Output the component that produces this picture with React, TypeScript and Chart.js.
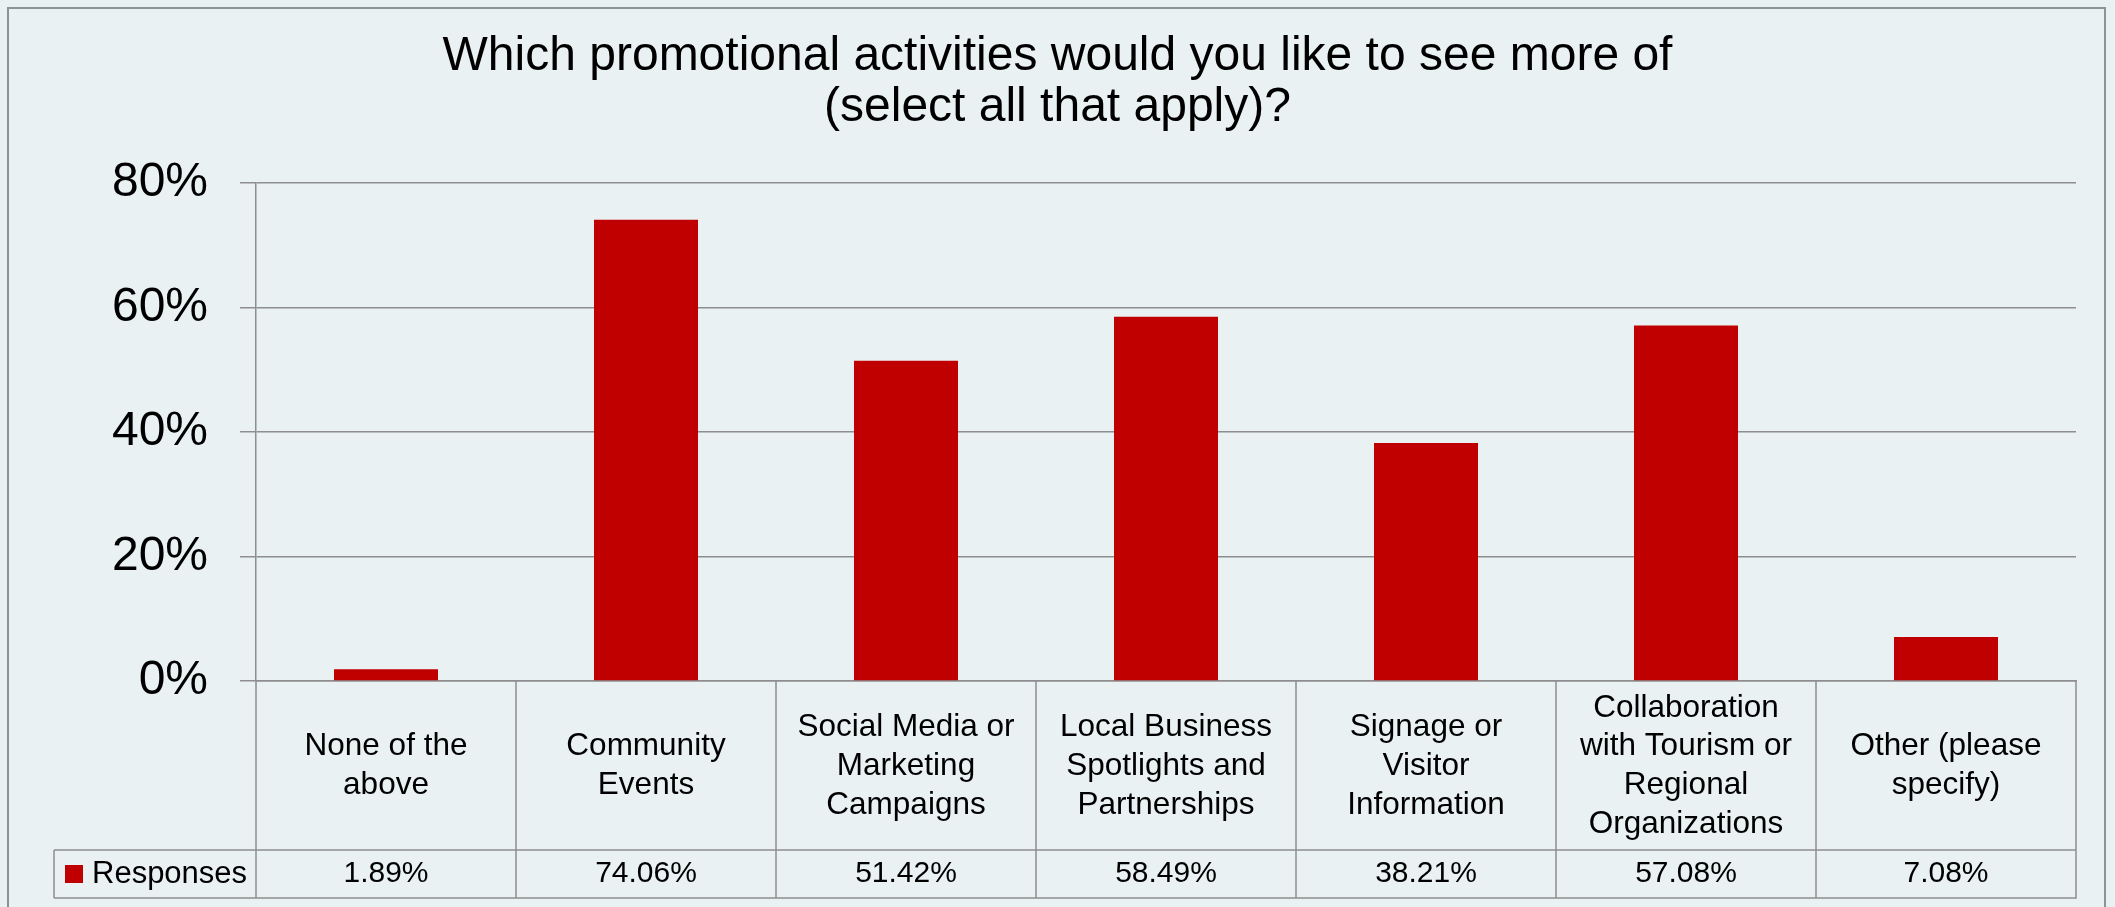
import { useEffect, useRef } from 'react';
import { Chart, registerables } from 'chart.js';

Chart.register(...registerables);

const titleLines = ['Which promotional activities would you like to see more of', '(select all that apply)?'];
const categories: string[][] = [
  ['None of the', 'above'],
  ['Community', 'Events'],
  ['Social Media or', 'Marketing', 'Campaigns'],
  ['Local Business', 'Spotlights and', 'Partnerships'],
  ['Signage or', 'Visitor', 'Information'],
  ['Collaboration', 'with Tourism or', 'Regional', 'Organizations'],
  ['Other (please', 'specify)'],
];
const seriesName = 'Responses';
const responses = [1.89, 74.06, 51.42, 58.49, 38.21, 57.08, 7.08];
const yTickValues = [0, 20, 40, 60, 80];

const FONT = '"Liberation Sans", Arial, Helvetica, sans-serif';
const BG = '#E9F1F3';
const LINE = '#8E8E8E';
const FRAME = '#8A9494';
const BAR = '#C00000';
const DATA_ROW_H = 48;
const LEGEND_LEFT = 54;

const excelTable = {
  id: 'excelTable',
  beforeDraw(chart: any) {
    const { ctx, width, height } = chart;
    ctx.save();
    ctx.fillStyle = BG;
    ctx.fillRect(0, 0, width, height);
    ctx.strokeStyle = FRAME;
    ctx.lineWidth = 2;
    ctx.strokeRect(8, 8, width - 18, height + 20);
    ctx.restore();
  },
  afterDraw(chart: any) {
    const { ctx, chartArea } = chart;
    const xs = chart.scales.x;
    const n = xs.ticks.length;
    const bounds: number[] = [];
    for (let i = 0; i <= n; i++) {
      if (i === 0) bounds.push(chartArea.left);
      else if (i === n) bounds.push(chartArea.right);
      else bounds.push((xs.getPixelForValue(i - 1) + xs.getPixelForValue(i)) / 2);
    }
    const top = chartArea.bottom;
    const bottom = xs.bottom;
    const rowTop = bottom - DATA_ROW_H;
    ctx.save();
    ctx.strokeStyle = LINE;
    ctx.lineWidth = 1.5;
    ctx.beginPath();
    for (const b of bounds) {
      ctx.moveTo(b, top);
      ctx.lineTo(b, bottom);
    }
    ctx.moveTo(LEGEND_LEFT, rowTop);
    ctx.lineTo(chartArea.right, rowTop);
    ctx.moveTo(LEGEND_LEFT, bottom);
    ctx.lineTo(chartArea.right + 0.75, bottom);
    ctx.moveTo(LEGEND_LEFT, rowTop);
    ctx.lineTo(LEGEND_LEFT, bottom);
    ctx.stroke();

    const mid = (rowTop + bottom) / 2;
    ctx.fillStyle = BAR;
    ctx.fillRect(65, mid - 9, 18, 18);
    ctx.fillStyle = '#000';
    ctx.font = `31px ${FONT}`;
    ctx.textBaseline = 'middle';
    ctx.textAlign = 'left';
    ctx.fillText(chart.data.datasets[0].label, 92, mid);
    ctx.textAlign = 'center';
    ctx.font = `30px ${FONT}`;
    const data = chart.data.datasets[0].data as number[];
    data.forEach((v, i) => {
      ctx.fillText(v.toFixed(2) + '%', xs.getPixelForValue(i), mid);
    });
    ctx.restore();
  },
};

export default function App() {
  const ref = useRef<HTMLCanvasElement | null>(null);
  useEffect(() => {
    if (!ref.current) return;
    const chart = new Chart(ref.current, {
      type: 'bar',
      data: {
        labels: categories,
        datasets: [
          {
            label: seriesName,
            data: responses,
            backgroundColor: BAR,
            borderWidth: 0,
            barPercentage: 0.4,
            categoryPercentage: 1,
          },
        ],
      },
      options: {
        responsive: false,
        devicePixelRatio: 1,
        animation: false,
        layout: { padding: { left: 39, right: 39, top: 0, bottom: 9 } },
        plugins: {
          legend: { display: false },
          tooltip: { enabled: false },
          title: {
            display: true,
            text: titleLines,
            color: '#000',
            font: { family: FONT, size: 48, weight: 'normal', lineHeight: 1.07 },
            padding: { top: 31, bottom: 49 },
          },
        },
        scales: {
          x: {
            grid: { display: false, drawTicks: false },
            border: { display: true, color: LINE, width: 1.5 },
            ticks: {
              color: '#000',
              font: { family: FONT, size: 31.5, lineHeight: 1.23 },
              padding: 27,
              maxRotation: 0,
              minRotation: 0,
              autoSkip: false,
              crossAlign: 'center',
            },
            afterFit: (s: any) => {
              s.height = 217;
            },
          },
          y: {
            min: 0,
            max: 80,
            afterBuildTicks: (s: any) => {
              s.ticks = yTickValues.map((v) => ({ value: v }));
            },
            ticks: {
              color: '#000',
              font: { family: FONT, size: 48 },
              padding: 32,
              callback: (v: any) => v + '%',
            },
            grid: { color: LINE, lineWidth: 1.5, tickLength: 16, drawTicks: true },
            border: { display: true, color: LINE, width: 1.5 },
            afterFit: (s: any) => {
              s.width = 217;
            },
          },
        },
      } as any,
      plugins: [excelTable],
    });
    return () => chart.destroy();
  }, []);
  return (
    <canvas
      ref={ref}
      width={2115}
      height={907}
      style={{ position: 'absolute', left: 0, top: 0, display: 'block' }}
    />
  );
}
